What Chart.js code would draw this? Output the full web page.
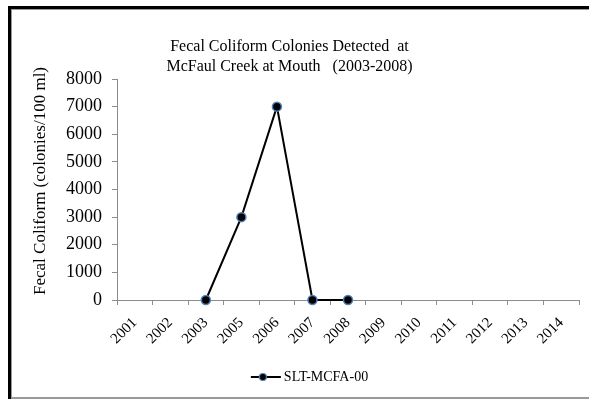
<!DOCTYPE html>
<html>
<head>
<meta charset="utf-8">
<script src="https://cdn.jsdelivr.net/npm/chart.js@4/dist/chart.umd.min.js"></script>
<style>
html,body{margin:0;padding:0;background:#fff;}
#wrap{position:relative;width:589px;height:401px;}
canvas{display:block;}
</style>
</head>
<body>
<div id="wrap"><canvas id="c" width="589" height="401"></canvas></div>
<script>
const years = ['2001','2002','2003','2005','2006','2007','2008','2009','2010','2011','2012','2013','2014'];
const coliform = [null, null, 0, 3000, 7000, 0, 0, null, null, null, null, null, null];
const yTicks = [0,1000,2000,3000,4000,5000,6000,7000,8000];
const seriesName = 'SLT-MCFA-00';
const titleLines = ['Fecal Coliform Colonies Detected  at', 'McFaul Creek at Mouth   (2003-2008)'];
const yTitle = 'Fecal Coliform (colonies/100 ml)';

const FONT = "'Liberation Serif', 'Times New Roman', serif";

// legend symbol: line with marker
const sym = document.createElement('canvas');
sym.width = 40; sym.height = 12;
(function(){
  const g = sym.getContext('2d');
  g.strokeStyle = '#000'; g.lineWidth = 2;
  g.beginPath(); g.moveTo(7,6); g.lineTo(37,6); g.stroke();
  g.beginPath(); g.arc(19,6,3.5,0,Math.PI*2);
  g.fillStyle = '#000'; g.fill();
  g.strokeStyle = '#4F81BD'; g.lineWidth = 1.2; g.stroke();
})();

const frame = {
  id: 'frame',
  beforeDraw(chart){
    const g = chart.ctx;
    g.save();
    g.fillStyle = '#fff';
    g.fillRect(0,0,chart.width,chart.height);
    g.fillStyle = '#000';
    g.fillRect(8,6,chart.width-8,3);
    g.fillRect(8,6,3,393);
    g.fillStyle = '#999';
    g.fillRect(11,9,chart.width-11,1);
    g.fillRect(11,9,1,390);
    g.fillRect(11,397,chart.width-11,2);
    g.restore();
  },
  afterLayout(chart){
    if (chart.legend){ chart.legend.left += 5; chart.legend.right += 5; }
    if (chart.titleBlock){ chart.titleBlock.left -= 15; chart.titleBlock.right -= 15; }
  }
};

new Chart(document.getElementById('c'), {
  type: 'line',
  data: {
    labels: years,
    datasets: [{
      label: seriesName,
      data: coliform,
      borderColor: '#000',
      borderWidth: 2,
      backgroundColor: '#000',
      pointRadius: 4.5,
      pointHoverRadius: 4.5,
      pointBackgroundColor: '#000',
      pointBorderColor: '#4F81BD',
      pointBorderWidth: 1.5,
      spanGaps: false,
      tension: 0,
      clip: false
    }]
  },
  options: {
    responsive: false,
    animation: false,
    devicePixelRatio: 1,
    layout: { padding: { left: 30, right: 10, top: 37, bottom: 7 } },
    plugins: {
      title: {
        display: true,
        text: titleLines,
        color: '#000',
        font: { family: FONT, size: 16, weight: 'normal', lineHeight: 1.25 },
        padding: { top: 0, bottom: 2 }
      },
      legend: {
        position: 'bottom',
        labels: {
          usePointStyle: true,
          pointStyleWidth: 26,
          color: '#000',
          font: { family: FONT, size: 14 },
          padding: 4,
          generateLabels(chart){
            return [{ text: seriesName, pointStyle: sym, fillStyle: '#000', strokeStyle: '#000', lineWidth: 0, datasetIndex: 0, hidden: false }];
          }
        }
      },
      tooltip: { enabled: false }
    },
    scales: {
      x: {
        offset: true,
        afterFit(axis){ axis.height = 66; },
        grid: { display: true, offset: true, drawOnChartArea: false, tickLength: 5, color: '#8c8c8c', lineWidth: 1 },
        border: { display: true, color: '#8c8c8c', width: 1 },
        ticks: { color: '#000', font: { family: FONT, size: 15 }, maxRotation: 45, minRotation: 45, padding: 9, autoSkip: false }
      },
      y: {
        min: 0, max: 8000,
        afterFit(axis){ axis.width = 87; },
        afterBuildTicks(axis){ axis.ticks = yTicks.map(v => ({ value: v })); },
        grid: { display: true, drawOnChartArea: false, tickLength: 5, color: '#8c8c8c' },
        border: { display: true, color: '#8c8c8c', width: 1 },
        ticks: { color: '#000', font: { family: FONT, size: 18 }, padding: 10, callback: v => String(v) },
        title: { display: true, text: '    ' + yTitle, color: '#000', font: { family: FONT, size: 17 }, padding: { top: 0, bottom: 4 } }
      }
    }
  },
  plugins: [frame]
});
</script>
</body>
</html>
